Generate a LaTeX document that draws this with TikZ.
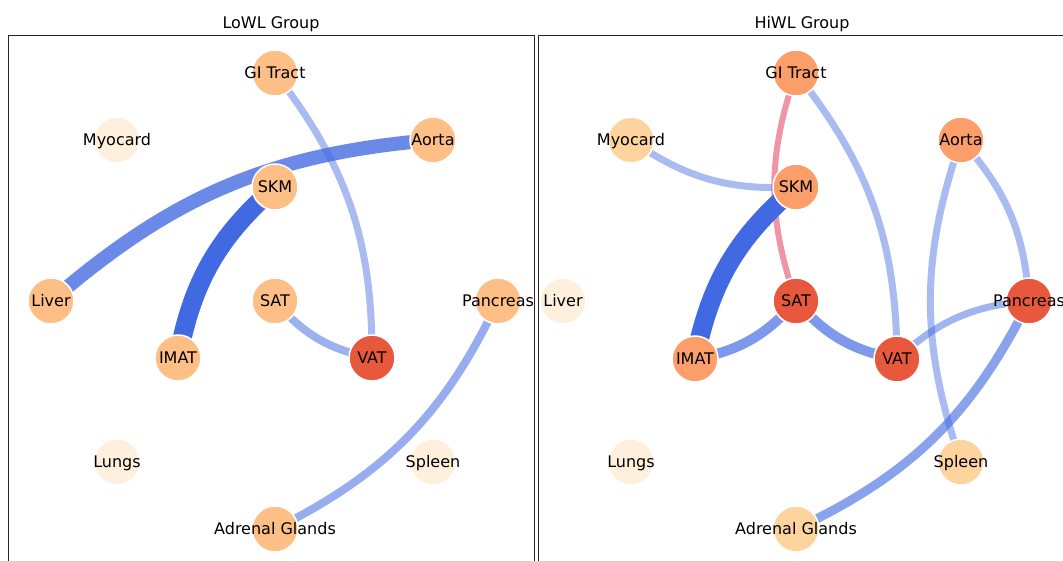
\documentclass[tikz,border=0pt]{standalone}
\usepackage{fontspec}
\setmainfont{DejaVu Sans}
\usetikzlibrary{backgrounds}
\definecolor{paleOr}{RGB}{254,240,220}
\definecolor{lightOr}{RGB}{253,212,158}
\definecolor{midOr}{RGB}{253,191,134}
\definecolor{deepOr}{RGB}{251,158,106}
\definecolor{hotOr}{RGB}{231,88,61}
\definecolor{edgeBlue}{RGB}{65,105,225}
\definecolor{edgeRed}{RGB}{220,20,60}
\tikzset{
    organ/.style={circle, minimum size=46pt, inner sep=0pt, draw=white, line width=1.5pt, fill=#1},
    organ/.default=paleOr,
    every label/.style={text height=11.7pt, text depth=0pt, inner sep=0pt},
    poslink/.style={draw=edgeBlue, draw opacity=#1},
    neglink/.style={draw=edgeRed, draw opacity=#1},
    panel/.style={draw=black!85, line width=1pt}
}

\begin{document}
\begin{tikzpicture}[x=1pt, y=1pt, font=\fontsize{16}{19}\selectfont]
    \useasboundingbox (0,0) rectangle (1063,-561);

    % Titles of the two groups
    \node[anchor=base] (lTitle) at (271,-29) {LoWL Group};
    \node[anchor=base] (hTitle) at (802,-29) {HiWL Group};

    % LoWL organs
    \node[organ=midOr, label=center:GI Tract] (lGI) at (275,-73) {};
    \node[organ, label=center:Myocard] (lMyo) at (117,-140) {};
    \node[organ=midOr, label=center:Aorta] (lAorta) at (433,-140) {};
    \node[organ=midOr, label=center:SKM] (lSKM) at (275,-187) {};
    \node[organ=midOr, label=center:Liver] (lLiver) at (51,-301) {};
    \node[organ=midOr, label=center:SAT] (lSAT) at (275,-301) {};
    \node[organ=midOr, label=center:Pancreas] (lPanc) at (498,-301) {};
    \node[organ=midOr, label=center:IMAT] (lIMAT) at (178,-358) {};
    \node[organ=hotOr, label=center:VAT] (lVAT) at (372,-358) {};
    \node[organ, label=center:Lungs] (lLungs) at (117,-462) {};
    \node[organ, label=center:Spleen] (lSpleen) at (433,-462) {};
    \node[organ=midOr, label=center:Adrenal Glands] (lAdr) at (275,-529) {};

    % HiWL organs
    \node[organ=deepOr, label=center:GI Tract] (hGI) at (796,-73) {};
    \node[organ=lightOr, label=center:Myocard] (hMyo) at (631,-140) {};
    \node[organ=deepOr, label=center:Aorta] (hAorta) at (961,-140) {};
    \node[organ=deepOr, label=center:SKM] (hSKM) at (796,-187) {};
    \node[organ, label=center:Liver] (hLiver) at (563,-301) {};
    \node[organ=hotOr, label=center:SAT] (hSAT) at (796,-301) {};
    \node[organ=hotOr, label=center:Pancreas] (hPanc) at (1029,-301) {};
    \node[organ=deepOr, label=center:IMAT] (hIMAT) at (695,-359) {};
    \node[organ=hotOr, label=center:VAT] (hVAT) at (897,-359) {};
    \node[organ, label=center:Lungs] (hLungs) at (631,-462) {};
    \node[organ=lightOr, label=center:Spleen] (hSpleen) at (961,-462) {};
    \node[organ=lightOr, label=center:Adrenal Glands] (hAdr) at (796,-529) {};

    \begin{scope}[on background layer]
        % panel frames
        \draw[panel] (8,-36) rectangle (534,-575);
        \draw[panel] (538.5,-36) rectangle (1070,-575);

        % LoWL links
        \draw[poslink=0.45, line width=7pt] (lGI.center) to[bend left=19] (lVAT.center);
        \draw[poslink=0.78, line width=14pt] (lLiver.center) to[bend left=18] (lAorta.center);
        \draw[poslink=1, line width=19pt] (lSKM.center) to[bend right=19] (lIMAT.center);
        \draw[poslink=0.52, line width=8pt] (lSAT.center) to[bend right=19] (lVAT.center);
        \draw[poslink=0.55, line width=8pt] (lPanc.center) to[bend left=19] (lAdr.center);

        % HiWL links
        \draw[neglink=0.45, line width=6pt] (hGI.center) to[bend right=19] (hSAT.center);
        \draw[poslink=0.45, line width=7pt] (hGI.center) to[bend left=19] (hVAT.center);
        \draw[poslink=0.45, line width=7pt] (hMyo.center) to[bend right=19] (hSKM.center);
        \draw[poslink=1, line width=19pt] (hSKM.center) to[bend right=19] (hIMAT.center);
        \draw[poslink=0.68, line width=10pt] (hIMAT.center) to[bend right=19] (hSAT.center);
        \draw[poslink=0.68, line width=10pt] (hSAT.center) to[bend right=19] (hVAT.center);
        \draw[poslink=0.5, line width=7pt] (hVAT.center) to[bend left=19] (hPanc.center);
        \draw[poslink=0.45, line width=7pt] (hAorta.center) to[bend right=19] (hSpleen.center);
        \draw[poslink=0.45, line width=7pt] (hAorta.center) to[bend left=19] (hPanc.center);
        \draw[poslink=0.62, line width=9pt] (hPanc.center) to[bend left=19] (hAdr.center);
    \end{scope}
\end{tikzpicture}
\end{document}
